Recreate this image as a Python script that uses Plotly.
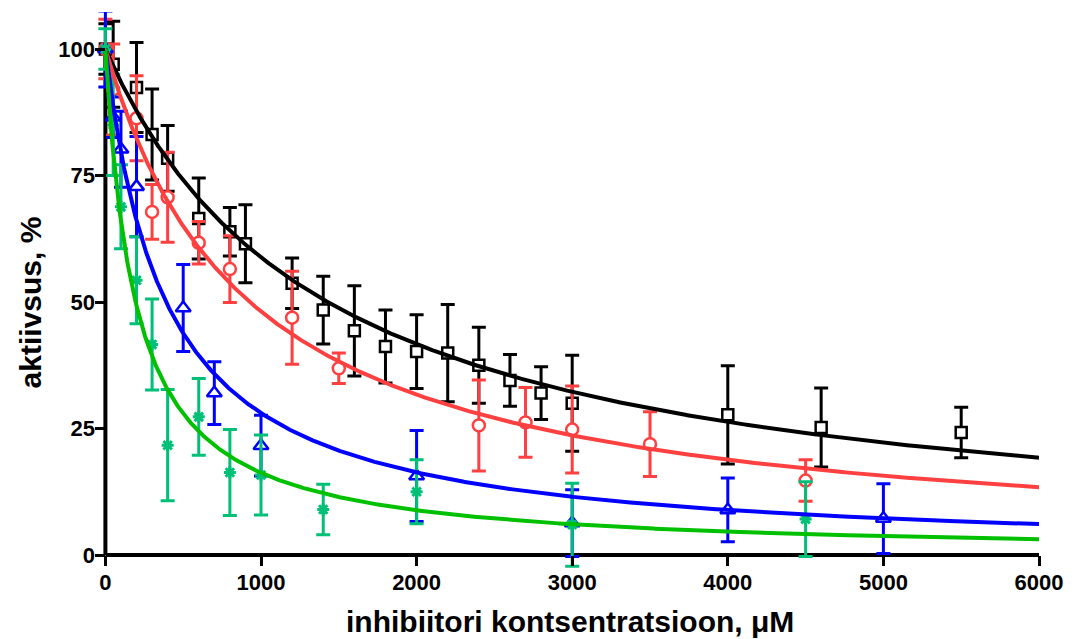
import numpy as np
import plotly.graph_objects as go

# ---------------- data ----------------
black_x = [0, 50, 200, 300, 400, 600, 800, 900, 1200, 1400, 1600, 1800, 2000, 2200,
           2400, 2600, 2800, 3000, 4000, 4600, 5500]
black_y = [100, 97, 92.4, 83.1, 78.4, 66.5, 63.9, 61.5, 53.7, 48.4, 44.3, 41.2, 40.2, 39.9,
           37.5, 34.5, 32.0, 30.0, 27.7, 25.2, 24.2]
black_e = [5, 8.5, 8.9, 9.0, 6.5, 8.0, 4.8, 7.7, 5.0, 6.7, 8.9, 7.2, 7.3, 9.6,
           7.5, 5.1, 5.2, 9.5, 9.7, 7.8, 5.0]

red_x = [0, 50, 200, 300, 400, 600, 800, 1200, 1500, 2400, 2700, 3000, 3500, 4500]
red_y = [100, 92, 86.3, 67.8, 70.7, 61.7, 56.5, 46.9, 36.9, 25.6, 26.2, 24.8, 21.9, 14.7]
red_e = [5.9, 9, 8.4, 5.4, 8.9, 4.2, 6.6, 9.2, 3.0, 9.0, 6.9, 8.6, 6.4, 4.1]

blue_x = [0, 50, 100, 200, 500, 700, 1000, 2000, 3000, 4000, 5000]
blue_y = [100, 86.5, 80.2, 72.8, 48.8, 32.0, 21.6, 15.6, 6.3, 8.9, 7.2]
blue_e = [7.5, 4, 7.5, 9.9, 8.6, 6.2, 6.0, 9.0, 6.6, 6.3, 6.9]

green_x = [0, 50, 100, 200, 300, 400, 600, 800, 1000, 1400, 2000, 3000, 4500]
green_y = [100, 85, 68.8, 54.3, 41.6, 21.7, 27.3, 16.3, 15.8, 9.0, 12.5, 6.0, 7.1]
green_e = [4, 10, 8.3, 8.6, 9.0, 11.0, 7.6, 8.5, 7.9, 5.0, 6.3, 8.2, 7.4]

# fitted IC50 values of the curves (one-site inhibition, 100/(1+x/IC50))
ic50 = {"black": 1428, "red": 928, "blue": 390, "green": 194}

x_ticks = [0, 1000, 2000, 3000, 4000, 5000, 6000]
y_ticks = [0, 25, 50, 75, 100]

# ---------------- figure ----------------
FONT = "Liberation Sans, Arial, sans-serif"
fig = go.Figure()

series = [
    (black_x, black_y, black_e, "black", "#000000", "square", 11),
    (red_x, red_y, red_e, "red", "#ff4040", "circle", 12),
    (blue_x, blue_y, blue_e, "blue", "#0000ff", "triangle-up", 13),
    (green_x, green_y, green_e, "green", "#00c078", "asterisk-open", 10),
]

for xs, ys, es, name, col, sym, sz in series:
    fig.add_trace(go.Scatter(
        x=xs, y=ys, mode="markers", name=name, cliponaxis=False,
        marker=dict(symbol=sym, size=sz, color="white" if sym != "asterisk-open" else col,
                    line=dict(color=col, width=2.5 if sym != "asterisk-open" else 3)),
        error_y=dict(type="data", array=es, visible=True, color=col, thickness=3, width=7),
        showlegend=False,
    ))

curve_cols = {"black": "#000000", "red": "#ff4040", "blue": "#0000ff", "green": "#00c000"}
xc = np.linspace(0, 6000, 1201)
for name in ["black", "red", "blue", "green"]:
    yc = 100.0 / (1.0 + xc / ic50[name])
    fig.add_trace(go.Scatter(x=xc, y=yc, mode="lines", line=dict(color=curve_cols[name], width=4),
                             showlegend=False, hoverinfo="skip"))

# plot-area geometry (pixels): x=0 at 105.5, x=6000 at 1045; y=0 at 555, y=100 at 49
ML, MR, MT, MB = 90, 30, 12, 69
W, H = 1075, 639
pw, ph = W - ML - MR, H - MT - MB
px_per_x = (1045 - 105.5) / 6000.0
x_lo = -(105.5 - ML) / px_per_x
px_per_y = (555 - 49) / 100.0
y_lo = -((H - MB) - 555) / px_per_y
y_hi = (555 - MT) / px_per_y

tickfont = dict(size=22, family=FONT, weight="bold", color="black")

fig.update_layout(
    width=W, height=H,
    margin=dict(l=ML, r=MR, t=MT, b=MB),
    paper_bgcolor="white", plot_bgcolor="white",
    font=dict(family=FONT, color="black"),
    xaxis=dict(range=[x_lo, 6000], tickvals=x_ticks, ticktext=[str(v) for v in x_ticks],
               showgrid=False, zeroline=False, showline=False,
               anchor="free", position=((H - MB) - 555) / ph,
               ticks="outside", ticklen=10, tickwidth=3, tickcolor="black",
               tickfont=tickfont, ticklabelstandoff=-2),
    yaxis=dict(range=[y_lo, y_hi], tickvals=y_ticks, ticktext=[str(v) for v in y_ticks],
               showgrid=False, zeroline=False, showline=False,
               anchor="free", position=(105.5 - ML) / pw,
               ticks="outside", ticklen=10, tickwidth=3, tickcolor="black",
               tickfont=tickfont, ticklabelstandoff=-4),
    shapes=[
        dict(type="line", xref="x", yref="y", x0=0, x1=6000, y0=0, y1=0,
             line=dict(color="black", width=4), layer="below"),
        dict(type="line", xref="x", yref="y", x0=0, x1=0, y0=0, y1=100,
             line=dict(color="black", width=4), layer="below"),
    ],
    annotations=[
        dict(text="inhibiitori kontsentratsioon, μM", xref="paper", yref="paper",
             x=(573 - ML) / pw, y=-(621 - (H - MB)) / ph, yanchor="middle", xanchor="center",
             showarrow=False, font=dict(size=30, family=FONT, weight="bold")),
        dict(text="aktiivsus, %", xref="paper", yref="paper", textangle=-90,
             x=(30 - ML) / pw, y=((H - MB) - 302) / ph, xanchor="center", yanchor="middle",
             showarrow=False, font=dict(size=30, family=FONT, weight="bold")),
    ],
)

fig.write_html("out.html")
